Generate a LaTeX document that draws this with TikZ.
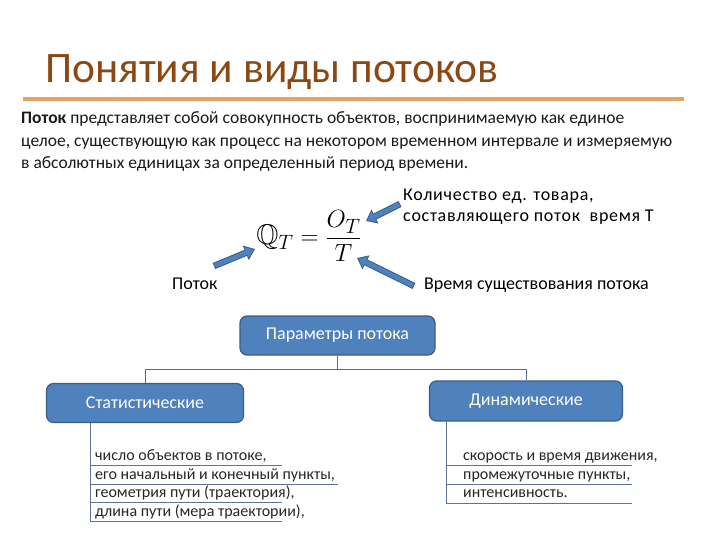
\documentclass[tikz,border=0pt]{standalone}
\usepackage{amsmath,amssymb}
\usepackage{fontspec}
\setmainfont{Carlito}
\usetikzlibrary{arrows.meta}
\definecolor{titlec}{RGB}{140,72,18}
\definecolor{rulec}{RGB}{226,164,104}
\definecolor{boxfill}{RGB}{79,129,189}
\definecolor{boxline}{RGB}{56,93,138}
\definecolor{linec}{RGB}{80,110,150}
\tikzset{
  txt/.style={inner sep=0pt, font=\fontsize{17.5}{20}\selectfont, text=black!90},
  lbl/.style={inner sep=0pt, font=\fontsize{18}{21}\selectfont, text=black},
  wlbl/.style={lbl, font=\fontsize{18}{21}\selectfont\addfontfeature{LetterSpace=4}},
  item/.style={inner sep=0pt, font=\fontsize{16}{18}\selectfont, text=black!85},
  bluebox/.style={draw=boxline, line width=1.2pt, fill=boxfill, rounded corners=7pt, text=white, font=\fontsize{18}{20}\selectfont, inner sep=0pt},
  conn/.style={draw=linec, line width=0.8pt},
  listline/.style={draw=linec!70!gray, line width=0.7pt},
  arrout/.style={draw=boxline, line width=6.5pt, -{Triangle[length=10pt,width=15pt]}},
  arrin/.style={draw=boxfill, line width=4.5pt, shorten >=1.6pt, shorten <=1pt, -{Triangle[length=7.5pt,width=11.5pt]}}
}
\begin{document}
\begin{tikzpicture}[x=1pt,y=-1pt]
\useasboundingbox (0,0) rectangle (720,540);
% title
\node[anchor=base west, inner sep=0pt, text=titlec, font=\fontsize{43.5}{50}\selectfont] (title) at (45,83) {Понятия и виды потоков};
\draw[rulec, line width=4pt] (23,99) -- (684,99);
% definition
\node[txt, anchor=base west] (d1) at (21,124) {\textbf{Поток} представляет собой совокупность объектов, воспринимаемую как единое};
\node[txt, anchor=base west] (d2) at (21,147) {целое, существующую как процесс на некотором временном интервале и измеряемую};
\node[txt, anchor=base west] (d3) at (21,169) {в абсолютных единицах за определенный период времени.};
% formula
\node[inner sep=0pt, font=\fontsize{28.5}{31}\selectfont] (formula) at (309,236) {$\mathbb{Q}_T = \dfrac{O_T}{T}$};
\coordinate (qtip) at (255,249);
\coordinate (otip) at (366,221);
\coordinate (ttip) at (357,258);
% labels
\node[wlbl, anchor=base west] (l1) at (403,201) {Количество ед. товара,};
\node[wlbl, anchor=base west] (l2) at (403,222) {составляющего поток\ \ время Т};
\node[lbl, anchor=base west] (l3) at (172,289) {Поток};
\node[lbl, anchor=base west] (l4) at (424,289) {Время существования потока};
\coordinate (a1) at (214,266);
\coordinate (a2) at (400,204);
\coordinate (a3) at (414,286);
\draw[arrout] (a1) -- (qtip);
\draw[arrin] (a1) -- (qtip);
\draw[arrout] (a2) -- (otip);
\draw[arrin] (a2) -- (otip);
\draw[arrout] (a3) -- (ttip);
\draw[arrin] (a3) -- (ttip);
% hierarchy
\node[bluebox, minimum width=195pt, minimum height=39pt] (par) at (337.5,335.5) {Параметры потока};
\node[bluebox, minimum width=197pt, minimum height=39pt] (stat) at (145,403) {Статистические};
\node[bluebox, minimum width=193pt, minimum height=40pt] (dyn) at (526,401) {Динамические};
\coordinate (jl) at (stat.north |- 0,369);
\coordinate (jr) at (dyn.north |- 0,369);
\coordinate (jm) at (par.south |- 0,369);
\draw[conn] (par.south) -- (jm) (jl) -- (jr) (jl) -- (stat.north) (jr) -- (dyn.north);
% left list
\coordinate (ls) at (90,423);
\coordinate (le) at (90,521);
\draw[listline] (ls) -- (le);
\node[item, anchor=base west] (i1) at (95,460.5) {число объектов в потоке,};
\node[item, anchor=base west] (i2) at (95,479.5) {его начальный и конечный пункты,};
\node[item, anchor=base west] (i3) at (95,497.5) {геометрия пути (траектория),};
\node[item, anchor=base west] (i4) at (95,516.5) {длина пути (мера траектории),};
\draw[listline] (90,465) -- (282,465);
\draw[listline] (90,484) -- (338,484);
\draw[listline] (90,502) -- (282,502);
\draw[listline] (le) -- (282,521);
% right list
\coordinate (rs) at (446,421);
\coordinate (re) at (446,503);
\draw[listline] (rs) -- (re);
\node[item, anchor=base west] (j1) at (463,460.5) {скорость и время движения,};
\node[item, anchor=base west] (j2) at (463,479.5) {промежуточные пункты,};
\node[item, anchor=base west] (j3) at (463,497.5) {интенсивность.};
\draw[listline] (446,465) -- (632,465);
\draw[listline] (446,484) -- (632,484);
\draw[listline] (re) -- (632,503);
\end{tikzpicture}
\end{document}
